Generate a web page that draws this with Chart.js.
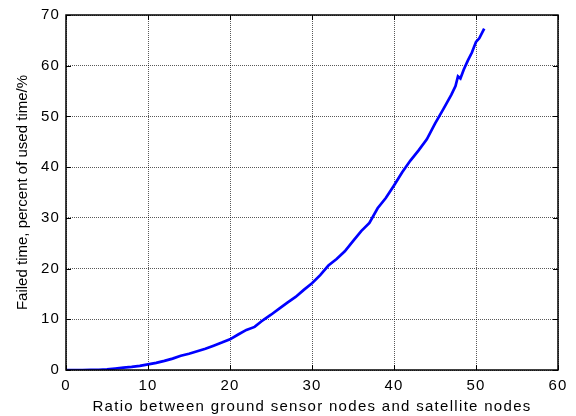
<!DOCTYPE html>
<html>
<head>
<meta charset="utf-8">
<script src="https://cdn.jsdelivr.net/npm/chart.js@4.4.0/dist/chart.umd.min.js"></script>
<style>
  html, body { margin: 0; padding: 0; background: #fff; }
  #wrap { width: 576px; height: 416px; }
</style>
</head>
<body>
<div id="wrap"><canvas id="failChart" width="576" height="416"></canvas></div>
<script>
// ratio between ground sensor nodes and satellite nodes
const ratioValues = [0, 1, 2, 3, 4, 5, 6, 7, 8, 9, 10, 11, 12, 13, 14, 15, 16, 17, 18, 19, 20,
    21, 22, 23, 24, 25, 26, 27, 28, 29, 30, 31, 32, 33, 34, 35, 36, 37, 38, 39, 40,
    41, 42, 43, 44, 45, 46, 47, 47.5, 47.8, 48.1, 48.5, 49, 49.5, 50, 50.4, 51];
// failed time, percent of used time
const failedValues = [0, 0, 0, 0.02, 0.05, 0.15, 0.3, 0.45, 0.6, 0.8, 1.1, 1.4, 1.8, 2.25, 2.8, 3.2, 3.7, 4.2, 4.8, 5.4, 6.05,
    7.0, 7.9, 8.5, 9.8, 10.9, 12.1, 13.3, 14.4, 15.8, 17.1, 18.7, 20.6, 21.9, 23.4, 25.4, 27.4, 29.0, 31.9, 33.9, 36.4,
    39.0, 41.3, 43.3, 45.5, 48.6, 51.4, 54.3, 56.0, 57.9, 57.5, 59.2, 61.0, 62.6, 64.7, 65.4, 67.3];

const xTicks = [0, 10, 20, 30, 40, 50, 60];
const yTicks = [0, 10, 20, 30, 40, 50, 60, 70];

const points = ratioValues.map((r, i) => ({ x: r, y: failedValues[i] }));

// the horizontal text in the original is spaced out a bit
function spaced(scale, name, spacing) {
    const orig = scale[name];
    scale[name] = function () {
        this.ctx.letterSpacing = spacing;
        orig.apply(this, arguments);
        this.ctx.letterSpacing = '0px';
    };
}

const spacingPlugin = {
    id: 'spacing',
    beforeDraw(chart) {
        const xs = chart.scales.x;
        const ys = chart.scales.y;
        if (!xs._spaced) {
            spaced(xs, 'drawTitle', '1.3px');
            spaced(xs, 'drawLabels', '1.2px');
            spaced(ys, 'drawLabels', '1.2px');
            xs._spaced = true;
        }
    }
};

// matlab style box with inward ticks
const boxPlugin = {
    id: 'box',
    afterDraw(chart) {
        const ctx = chart.ctx;
        const a = chart.chartArea;
        const xs = chart.scales.x;
        const ys = chart.scales.y;
        ctx.save();
        ctx.strokeStyle = '#000';
        ctx.lineWidth = 1;
        ctx.beginPath();
        xTicks.forEach(t => {
            const px = Math.round(xs.getPixelForValue(t)) + 0.5;
            ctx.moveTo(px, a.bottom); ctx.lineTo(px, a.bottom - 5);
            ctx.moveTo(px, a.top); ctx.lineTo(px, a.top + 5);
        });
        yTicks.forEach(t => {
            const py = Math.round(ys.getPixelForValue(t)) + 0.5;
            ctx.moveTo(a.left, py); ctx.lineTo(a.left + 5, py);
            ctx.moveTo(a.right, py); ctx.lineTo(a.right - 5, py);
        });
        ctx.stroke();
        ctx.lineWidth = 1.5;
        ctx.strokeRect(a.left, a.top, a.right - a.left, a.bottom - a.top);
        ctx.restore();
    }
};

const ctx = document.getElementById('failChart').getContext('2d');
const failChart = new Chart(ctx, {
    type: 'scatter',
    data: {
        datasets: [{
            data: points,
            showLine: true,
            borderColor: '#0000ff',
            borderWidth: 2.7,
            pointRadius: 0,
            tension: 0,
            fill: false
        }]
    },
    options: {
        responsive: false,
        animation: false,
        layout: { padding: { top: 13, right: 18, left: 0, bottom: 0 } },
        plugins: {
            legend: { display: false },
            tooltip: { enabled: false }
        },
        scales: {
            x: {
                type: 'linear',
                min: 0,
                max: 60,
                afterBuildTicks: s => { s.ticks = xTicks.map(v => ({ value: v })); },
                afterFit: s => { s.height = 46; },
                grid: { color: 'rgba(0,0,0,0.65)', drawTicks: false },
                border: { display: false, dash: [1, 1] },
                ticks: { color: '#000', padding: 7, font: { family: 'Liberation Sans', size: 15 } },
                title: {
                    display: true,
                    text: 'Ratio between ground sensor nodes and satellite nodes',
                    color: '#000',
                    font: { family: 'Liberation Sans', size: 15 },
                    padding: { top: 0, bottom: 0 }
                }
            },
            y: {
                type: 'linear',
                min: 0,
                max: 70,
                afterBuildTicks: s => { s.ticks = yTicks.map(v => ({ value: v })); },
                afterFit: s => { s.width = 66; },
                grid: { color: 'rgba(0,0,0,0.65)', drawTicks: false },
                border: { display: false, dash: [1, 1] },
                ticks: { color: '#000', padding: 6, font: { family: 'Liberation Sans', size: 15 } },
                title: {
                    display: true,
                    text: 'Failed time, percent of used time/%',
                    color: '#000',
                    font: { family: 'Liberation Sans', size: 15 },
                    padding: { top: 14, bottom: 0 }
                }
            }
        }
    },
    plugins: [spacingPlugin, boxPlugin]
});
</script>
</body>
</html>
